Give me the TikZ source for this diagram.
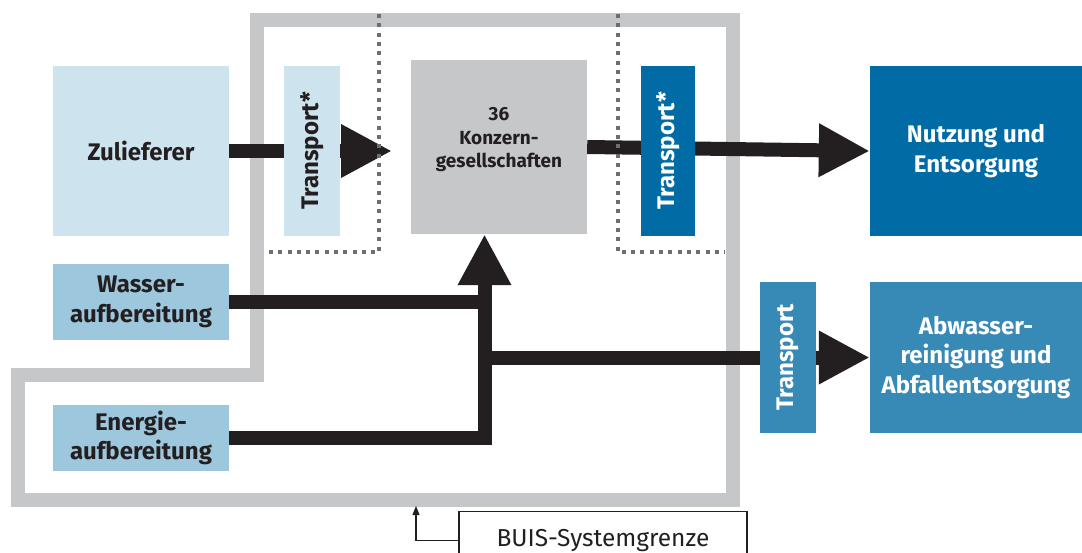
\documentclass[tikz,border=0pt]{standalone}
\usepackage{fontspec}
\setmainfont{Fira Sans}
\usetikzlibrary{arrows.meta}
\definecolor{lightblue}{HTML}{CDE3EE}
\definecolor{midlight}{HTML}{9CC7DD}
\definecolor{darkblue}{HTML}{006BA4}
\definecolor{midblue}{HTML}{3789B6}
\definecolor{boxgray}{HTML}{C6C7C9}
\definecolor{dotgray}{HTML}{6D6E71}
\definecolor{ink}{HTML}{231F20}
\tikzset{
  box/.style={rectangle, inner sep=0pt, align=center, font=\fontsize{24}{29.5}\selectfont\bfseries, text=ink},
  smallbox/.style={box, font=\fontsize{19}{23.5}\selectfont\bfseries},
  flow/.style={draw=ink, line width=14pt, line join=miter, line cap=butt},
  flowtip/.style={flow, -{Triangle[width=50pt,length=51pt]}},
  boundary/.style={draw=boxgray, line width=14pt, line join=miter},
  dotline/.style={draw=dotgray, line width=4pt, dash pattern=on 4pt off 5.3pt},
  thinline/.style={draw=ink, line width=1.2pt, -{Triangle[width=7pt,length=9pt]}},
}
\begin{document}
\begin{tikzpicture}[x=1pt,y=-1pt]
\useasboundingbox (0,0) rectangle (1082,552);
% system boundary
\draw[boundary] (256.5,19.5) -- (733,19.5) -- (733,499.5) -- (18,499.5) -- (18,375) -- (256.5,375) -- cycle;
% nodes
\node[box, fill=lightblue, minimum width=176pt, minimum height=170pt] (zul) at (141,151) {Zulieferer};
\node[box, fill=midlight, minimum width=176pt, minimum height=76pt] (was) at (141,302) {Wasser-\\aufbereitung};
\node[box, fill=midlight, minimum width=176pt, minimum height=66pt] (ene) at (141,438) {Energie-\\aufbereitung};
\node[smallbox, fill=boxgray, minimum width=176pt, minimum height=174pt] (konz) at (499,147) {36\\Konzern-\\gesellschaften\rule[-19pt]{0pt}{19pt}};
\node[box, fill=darkblue, text=white, minimum width=212pt, minimum height=170pt] (nutz) at (976,151) {Nutzung und\\Entsorgung};
\node[box, fill=midblue, text=white, minimum width=212pt, minimum height=151pt] (abw) at (976,357.5) {Abwasser-\\reinigung und\\Abfallentsorgung};
\coordinate (vx) at (484.5,0);
\coordinate (ztip) at (392,151);
\coordinate (wj) at (484.5,302);
\coordinate (ej) at (484.5,438);
\coordinate (bj) at (484.5,357.5);
% flows
\draw[flowtip] (zul.east) -- (ztip);
\draw[flowtip] (konz.east) -- (nutz.west);
\draw[flow] (was.east) -- (wj);
\draw[flowtip] (ene.east) -- (ej) -- (konz.south -| vx);
\draw[flowtip] (bj) -- (abw.west);
% transport boxes
\node[box, rotate=90, fill=lightblue, minimum width=170pt, minimum height=56pt] (t1) at (312,151) {Transport*};
\node[box, rotate=90, fill=darkblue, text=white, minimum width=170pt, minimum height=54pt] (t2) at (668,151) {Transport*};
\node[box, rotate=90, fill=midblue, text=white, minimum width=151pt, minimum height=56pt] (t3) at (788,357.5) {Transport};
% dotted boxes
\draw[dotline] (379,14) -- (379,252) -- (267,252);
\draw[dotline] (618,14) -- (618,252) -- (725,252);
% label
\node[draw=ink, line width=1.2pt, minimum width=288pt, minimum height=58pt, inner sep=0pt, font=\fontsize{24.5}{28}\selectfont, text=ink, anchor=north] (buis) at (603,511) {BUIS-Systemgrenze};
\coordinate (bt) at (416,506);
\draw[thinline] (buis.west) -| (bt);
\end{tikzpicture}
\end{document}
